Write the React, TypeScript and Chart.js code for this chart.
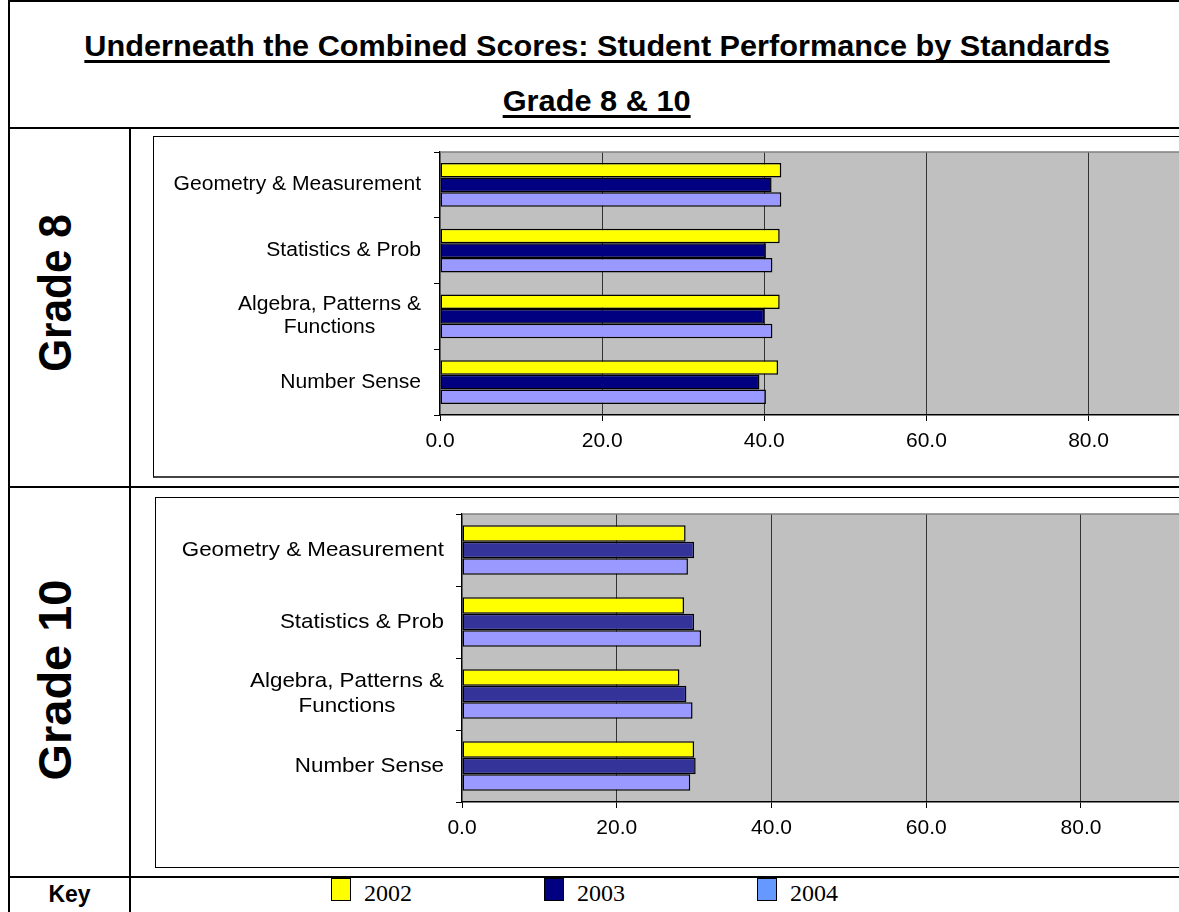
import React, { useEffect, useRef } from "react";
import { Chart, registerables } from "chart.js";

Chart.register(...registerables);

// ---------- data ----------
const categories = ["Geometry & Measurement", "Statistics & Prob", "Algebra, Patterns & Functions", "Number Sense"];
const categoryLines = [["Geometry & Measurement"], ["Statistics & Prob"], ["Algebra, Patterns &", "Functions"], ["Number Sense"]];
const years = ["2002", "2003", "2004"];

const grade8Y2002 = [42.1, 41.9, 41.9, 41.7];
const grade8Y2003 = [40.9, 40.2, 40.0, 39.4];
const grade8Y2004 = [42.1, 41.0, 41.0, 40.2];

const grade10Y2002 = [28.9, 28.7, 28.1, 30.0];
const grade10Y2003 = [30.0, 30.0, 29.0, 30.2];
const grade10Y2004 = [29.2, 30.9, 29.8, 29.5];

const xTickValues = [0, 20, 40, 60, 80, 100];

const grade8Colors = ["#FFFF00", "#000080", "#9999FF"];
const grade10Colors = ["#FFFF00", "#333399", "#9999FF"];
const keyColors = ["#FFFF00", "#000080", "#6699FF"];

const titleLine1 = "Underneath the Combined Scores: Student Performance by Standards";
const titleLine2 = "Grade 8 & 10";
const rowLabels = ["Grade 8", "Grade 10"];
const keyLabel = "Key";

const SANS = '"Liberation Sans", Arial, sans-serif';

// ---------- plugins ----------
const plotBgPlugin = {
  id: "plotBg",
  beforeDraw(chart: any) {
    const { ctx, chartArea: a } = chart;
    ctx.save();
    ctx.fillStyle = "#C0C0C0";
    ctx.fillRect(a.left, a.top, a.right - a.left, a.bottom - a.top);
    ctx.restore();
  },
  beforeDatasetsDraw(chart: any) {
    const { ctx, chartArea: a } = chart;
    ctx.save();
    ctx.strokeStyle = "#808080";
    ctx.lineWidth = 1.5;
    ctx.beginPath();
    ctx.moveTo(a.left, a.top);
    ctx.lineTo(a.right, a.top);
    ctx.lineTo(a.right, a.bottom);
    ctx.stroke();
    ctx.restore();
  },
};

function makeYLabelPlugin(size: number, sx: number, lineH: number, gap: number) {
  return {
    id: "yLabels",
    afterDraw(chart: any) {
      const { ctx } = chart;
      const yScale = chart.scales.y;
      const labels = chart.data.labels as any[];
      ctx.save();
      ctx.font = `${size}px ${SANS}`;
      ctx.fillStyle = "#000";
      ctx.textBaseline = "middle";
      ctx.textAlign = "center";
      const right = chart.chartArea.left - gap;
      labels.forEach((lab, i) => {
        const lines: string[] = Array.isArray(lab) ? lab : [lab];
        const cy = yScale.getPixelForValue(i);
        const maxW = Math.max(...lines.map((l) => ctx.measureText(l).width * sx));
        const cx = right - maxW / 2;
        lines.forEach((l, j) => {
          const ly = cy + (j - (lines.length - 1) / 2) * lineH;
          ctx.save();
          ctx.translate(cx, ly);
          ctx.scale(sx, 1);
          ctx.fillText(l, 0, 0);
          ctx.restore();
        });
      });
      ctx.restore();
    },
  };
}

type BarChartProps = {
  series: number[][];
  colors: string[];
  width: number;
  height: number;
  yAxisWidth: number;
  xAxisHeight: number;
  padTop: number;
  padRight: number;
  catPct: number;
  labelSize: number;
  labelSx: number;
  lineH: number;
  gap: number;
  tickFont: number;
};

function BarChart(p: BarChartProps) {
  const ref = useRef<HTMLCanvasElement | null>(null);
  useEffect(() => {
    if (!ref.current) return;
    const chart = new Chart(ref.current, {
      type: "bar",
      data: {
        labels: categoryLines as any,
        datasets: years.map((yr, i) => ({
          label: yr,
          data: p.series[i],
          backgroundColor: p.colors[i],
          borderColor: "#000000",
          borderWidth: 1.5,
          borderSkipped: false,
          categoryPercentage: p.catPct,
          barPercentage: 1.0,
        })),
      },
      options: {
        indexAxis: "y",
        animation: false,
        responsive: false,
        maintainAspectRatio: false,
        devicePixelRatio: 1,
        layout: { padding: { top: p.padTop, right: p.padRight, left: 0, bottom: 0 } },
        plugins: {
          legend: { display: false },
          tooltip: { enabled: false },
          title: { display: false },
        },
        scales: {
          x: {
            type: "linear",
            min: xTickValues[0],
            max: xTickValues[xTickValues.length - 1],
            afterBuildTicks: (s: any) => {
              s.ticks = xTickValues.map((v) => ({ value: v }));
            },
            ticks: {
              color: "#000",
              font: { family: SANS, size: p.tickFont },
              padding: 8,
              maxRotation: 0,
              autoSkip: false,
              callback: (v: any) => Number(v).toFixed(1),
            },
            grid: {
              color: (c: any) => (c.tick && (c.tick.value === 0 || c.tick.value === 100) ? "rgba(0,0,0,0)" : "#333333"),
              tickColor: "#000000",
              lineWidth: 1,
              drawTicks: true,
              tickLength: 6,
            },
            border: { display: true, color: "#000000", width: 1.5 },
            afterFit: (s: any) => {
              s.height = p.xAxisHeight;
            },
          },
          y: {
            type: "category",
            offset: true,
            ticks: { display: false },
            grid: {
              display: true,
              offset: true,
              drawOnChartArea: false,
              drawTicks: true,
              tickLength: 6,
              color: "#000000",
              tickColor: "#000000",
            },
            border: { display: true, color: "#000000", width: 1.5 },
            afterFit: (s: any) => {
              s.width = p.yAxisWidth;
            },
          },
        },
      } as any,
      plugins: [plotBgPlugin, makeYLabelPlugin(p.labelSize, p.labelSx, p.lineH, p.gap)],
    });
    return () => chart.destroy();
  }, []);
  return <canvas ref={ref} width={p.width} height={p.height} style={{ display: "block", width: p.width, height: p.height }} />;
}

const abs = (s: React.CSSProperties): React.CSSProperties => ({ position: "absolute", ...s });

const rowLabelCenters = [293, 680];
const rowLabelScale = [0.92, 1.02];

const underline: React.CSSProperties = {
  display: "inline-block",
  textDecoration: "underline",
  textDecorationThickness: "3px",
  textUnderlineOffset: "4px",
  textDecorationSkipInk: "none",
} as React.CSSProperties;

export default function App() {
  return (
    <div
      style={{
        position: "fixed",
        left: 0,
        top: 0,
        width: 1179,
        height: 912,
        overflow: "hidden",
        background: "#fff",
        fontFamily: SANS,
      }}
    >
      {/* table lines */}
      <div style={abs({ left: 8, top: 0, width: 1300, height: 2, background: "#000" })} />
      <div style={abs({ left: 8, top: 0, width: 2, height: 912, background: "#000" })} />
      <div style={abs({ left: 8, top: 127, width: 1300, height: 2, background: "#000" })} />
      <div style={abs({ left: 129, top: 127, width: 2, height: 800, background: "#000" })} />
      <div style={abs({ left: 8, top: 486, width: 1300, height: 2, background: "#000" })} />
      <div style={abs({ left: 8, top: 876, width: 1300, height: 2, background: "#000" })} />

      {/* title */}
      <div
        style={abs({
          left: 0,
          width: 1194,
          top: 28,
          textAlign: "center",
          fontWeight: "bold",
          fontSize: 29,
          lineHeight: "36px",
          whiteSpace: "nowrap",
        })}
      >
        <span style={{ ...underline, transform: "scaleX(1.057)" }}>{titleLine1}</span>
      </div>
      <div
        style={abs({
          left: 0,
          width: 1194,
          top: 83,
          textAlign: "center",
          fontWeight: "bold",
          fontSize: 29,
          lineHeight: "36px",
          whiteSpace: "nowrap",
        })}
      >
        <span style={{ ...underline, transform: "scaleX(1.06)" }}>{titleLine2}</span>
      </div>

      {/* row labels (rotated) */}
      {rowLabelCenters.map((cy, i) => (
        <div
          key={i}
          style={abs({
            left: 55 - 150,
            top: cy - 30,
            width: 300,
            height: 60,
            lineHeight: "60px",
            textAlign: "center",
            fontWeight: "bold",
            fontSize: 46,
            whiteSpace: "nowrap",
            transform: `rotate(-90deg) scaleX(${rowLabelScale[i]})`,
          })}
        >
          {rowLabels[i]}
        </div>
      ))}

      {/* grade 8 chart box */}
      <div style={abs({ left: 153, top: 136, width: 1200, height: 339, borderTop: "1px solid #000", borderLeft: "1px solid #000", borderBottom: "2px solid #444", background: "#fff" })}>
        <BarChart
          series={[grade8Y2002, grade8Y2003, grade8Y2004]}
          colors={grade8Colors}
          width={1131}
          height={339}
          yAxisWidth={286}
          xAxisHeight={61}
          padTop={15}
          padRight={30}
          catPct={0.665}
          labelSize={20}
          labelSx={1.055}
          lineH={23}
          gap={19}
          tickFont={21}
        />
      </div>

      {/* grade 10 chart box */}
      <div style={abs({ left: 155, top: 497, width: 1200, height: 369, borderTop: "1px solid #000", borderLeft: "1px solid #000", borderBottom: "1px solid #000", background: "#fff" })}>
        <BarChart
          series={[grade10Y2002, grade10Y2003, grade10Y2004]}
          colors={grade10Colors}
          width={1114}
          height={369}
          yAxisWidth={306}
          xAxisHeight={65}
          padTop={16}
          padRight={30}
          catPct={0.69}
          labelSize={21}
          labelSx={1.065}
          lineH={25}
          gap={18}
          tickFont={21}
        />
      </div>

      {/* key row */}
      <div style={abs({ left: 10, width: 119, top: 877, height: 34, lineHeight: "34px", textAlign: "center", fontWeight: "bold", fontSize: 23 })}>{keyLabel}</div>
      {years.map((yr, i) => (
        <React.Fragment key={yr}>
          <div
            style={abs({
              left: 331 + i * 213,
              top: 877,
              width: 18,
              height: 21,
              background: keyColors[i],
              border: "1px solid #000",
              borderTop: "2px solid #000",
            })}
          />
          <div
            style={abs({
              left: 364 + i * 213,
              top: 878,
              height: 30,
              lineHeight: "30px",
              fontFamily: '"Liberation Serif", "Times New Roman", serif',
              fontSize: 24,
              color: "#000",
            })}
          >
            {yr}
          </div>
        </React.Fragment>
      ))}
    </div>
  );
}
